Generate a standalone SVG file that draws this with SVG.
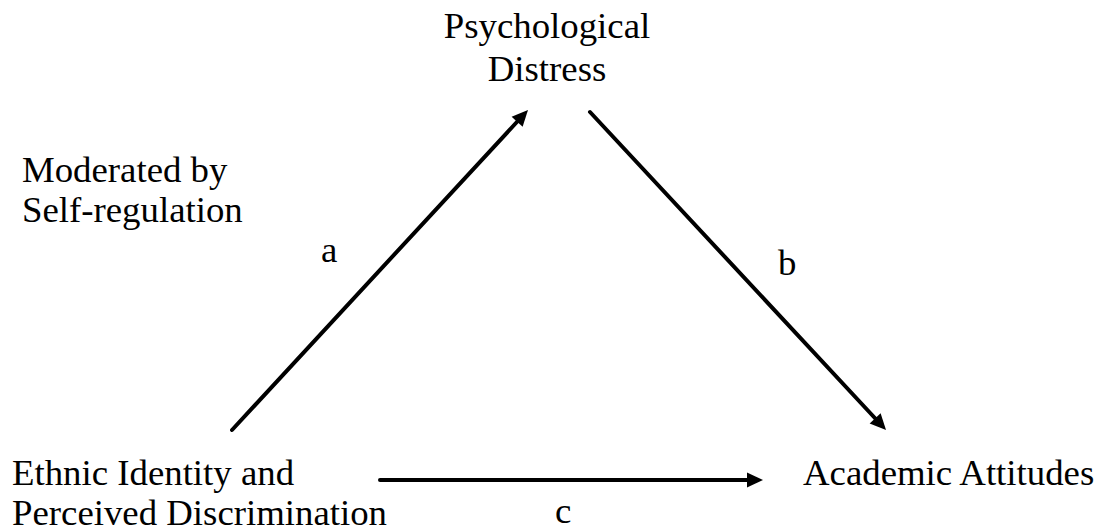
<svg xmlns="http://www.w3.org/2000/svg" width="1102" height="531" viewBox="0 0 1102 531">
<style>
text{font-family:"Liberation Serif","Times New Roman",serif;font-size:36.8px;fill:#000}
.c{stroke:#000;stroke-width:4;fill:none;stroke-linecap:round}
</style>
<defs>
<marker id="ah" markerUnits="userSpaceOnUse" viewBox="-2 -9 19 18" markerWidth="19" markerHeight="18" refX="0" refY="0" orient="auto">
<path d="M-1,-7.5 L15,0 L-1,7.5 z" fill="#000"/>
</marker>
</defs>
<rect width="1102" height="531" fill="#fff"/>
<g id="connectors">
<line class="c" x1="232" y1="430" x2="517.8" y2="121" marker-end="url(#ah)"/>
<line class="c" x1="590" y1="112" x2="875.8" y2="419" marker-end="url(#ah)"/>
<line class="c" x1="380" y1="480" x2="748" y2="480" marker-end="url(#ah)"/>
</g>
<g id="node-distress">
<text x="547" y="38" text-anchor="middle">Psychological</text>
<text x="547" y="81" text-anchor="middle">Distress</text>
</g>
<g id="node-moderator">
<text x="22" y="182">Moderated by</text>
<text x="22" y="222">Self-regulation</text>
</g>
<g id="node-ethnic">
<text x="12" y="485">Ethnic Identity and</text>
<text x="12" y="525">Perceived Discrimination</text>
</g>
<g id="node-academic">
<text x="803" y="485">Academic Attitudes</text>
</g>
<g id="labels">
<text x="321" y="262">a</text>
<text x="778" y="275">b</text>
<text x="555" y="523">c</text>
</g>
</svg>
